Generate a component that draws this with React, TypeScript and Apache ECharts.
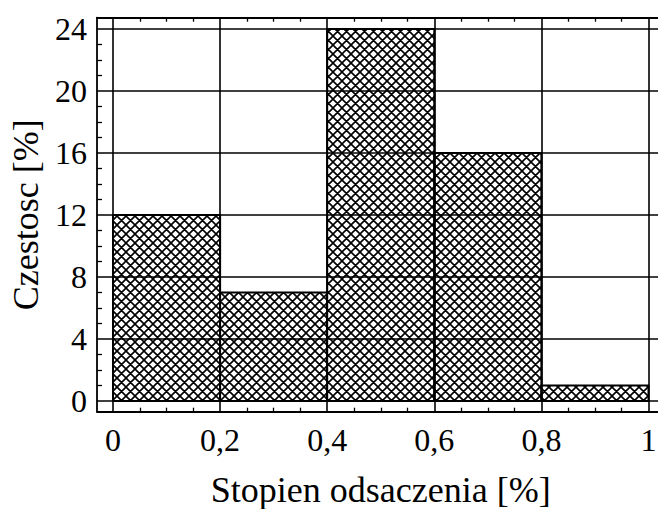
import React, { useEffect, useRef } from "react";
import * as echarts from "echarts";

const binStarts = [0, 0.2, 0.4, 0.6, 0.8];
const binEnds = [0.2, 0.4, 0.6, 0.8, 1.0];
const frequencies = [12, 7, 24, 16, 1];
const xMajorTicks = [0, 0.2, 0.4, 0.6, 0.8, 1];
const xMinorTicks = [0.05, 0.1, 0.15, 0.25, 0.3, 0.35, 0.45, 0.5, 0.55, 0.65, 0.7, 0.75, 0.85, 0.9, 0.95];
const yMajorTicks = [0, 4, 8, 12, 16, 20, 24];
const yMinorTicks = [1, 2, 3, 5, 6, 7, 9, 10, 11, 13, 14, 15, 17, 18, 19, 21, 22, 23];
const xTitle = "Stopien odsaczenia [%]";
const yTitle = "Czestosc [%]";

const FONT = "Liberation Serif";

function makeHatch(s: number): HTMLCanvasElement {
  const c = document.createElement("canvas");
  c.width = s;
  c.height = s;
  const ctx = c.getContext("2d")!;
  ctx.fillStyle = "#ffffff";
  ctx.fillRect(0, 0, s, s);
  ctx.strokeStyle = "#000000";
  ctx.lineWidth = 1.6;
  ctx.beginPath();
  for (const o of [-s, 0, s]) {
    ctx.moveTo(o - 1, -1);
    ctx.lineTo(o + s + 1, s + 1);
    ctx.moveTo(o + s + 1, -1);
    ctx.lineTo(o - 1, s + 1);
  }
  ctx.stroke();
  return c;
}

export default function App() {
  const ref = useRef<HTMLDivElement>(null);
  useEffect(() => {
    document.body.style.margin = "0";
    const chart = echarts.init(ref.current!, null, { renderer: "svg" });
    const tile = 9;
    const hatch = makeHatch(tile);
    const xMin = -0.0299;
    const xMax = 1.0299;
    const yMin = -0.69;
    const yMax = 24.73;
    const frameLine = { show: true, onZero: false, lineStyle: { color: "#000", width: 1.8 } };
    const labelFmtX = (v: number) => String(Math.round(v * 10) / 10).replace(".", ",");
    const histData = frequencies.map((f, i) => [binStarts[i], binEnds[i], f]);
    chart.setOption({
      animation: false,
      backgroundColor: "#ffffff",
      textStyle: { fontFamily: FONT },
      grid: {
        left: 97,
        top: 17.7,
        width: 567.5,
        height: 394,
        show: false,
        containLabel: false,
        outerBoundsMode: "none",
      },
      xAxis: [
        {
          type: "value",
          position: "bottom",
          min: xMin,
          max: xMax,
          axisLine: frameLine,
          axisTick: { show: true, inside: true, length: 4, customValues: xMinorTicks, lineStyle: { color: "#000", width: 1.3 } },
          axisLabel: {
            show: true,
            customValues: xMajorTicks,
            formatter: labelFmtX,
            fontFamily: FONT,
            fontSize: 32,
            color: "#000",
            margin: 12,
          },
          splitLine: { show: false },
          name: xTitle,
          nameLocation: "middle",
          nameGap: 60,
          nameTextStyle: { fontFamily: FONT, fontSize: 36, color: "#000" },
        },
        {
          type: "value",
          position: "top",
          min: xMin,
          max: xMax,
          axisLine: frameLine,
          axisTick: { show: true, inside: true, length: 4, customValues: xMinorTicks, lineStyle: { color: "#000", width: 1.3 } },
          axisLabel: { show: false },
          splitLine: { show: false },
        },
      ],
      yAxis: [
        {
          type: "value",
          position: "left",
          min: yMin,
          max: yMax,
          axisLine: frameLine,
          axisTick: { show: true, inside: true, length: 5, customValues: yMinorTicks, lineStyle: { color: "#000", width: 1.3 } },
          axisLabel: {
            show: true,
            customValues: yMajorTicks,
            fontFamily: FONT,
            fontSize: 32,
            color: "#000",
            margin: 10,
          },
          splitLine: { show: false },
          name: yTitle,
          nameLocation: "middle",
          nameGap: 50,
          nameTextStyle: { fontFamily: FONT, fontSize: 36, color: "#000" },
        },
        {
          type: "value",
          position: "right",
          min: yMin,
          max: yMax,
          axisLine: frameLine,
          axisTick: { show: false },
          axisLabel: { show: false },
          splitLine: { show: false },
        },
      ],
      series: [
        {
          type: "custom",
          xAxisIndex: 0,
          yAxisIndex: 0,
          data: histData,
          renderItem: (params: any, api: any) => {
            const p0 = api.coord([api.value(0), api.value(2)]);
            const p1 = api.coord([api.value(1), 0]);
            return {
              type: "rect",
              shape: { x: p0[0], y: p0[1], width: p1[0] - p0[0], height: p1[1] - p0[1] },
              style: {
                fill: { image: hatch, repeat: "repeat", imageWidth: tile, imageHeight: tile },
                stroke: "#000",
                lineWidth: 2,
              },
            };
          },
          markLine: {
            silent: true,
            symbol: "none",
            label: { show: false },
            lineStyle: { color: "#000", width: 1.6, type: "solid" },
            data: [
              ...xMajorTicks.map((v) => ({ xAxis: v })),
              ...yMajorTicks.map((v) => ({ yAxis: v })),
            ],
          },
        },
      ],
    });
    return () => chart.dispose();
  }, []);
  return <div ref={ref} style={{ width: 658, height: 509, position: "absolute", left: 0, top: 0, overflow: "hidden" }} />;
}
